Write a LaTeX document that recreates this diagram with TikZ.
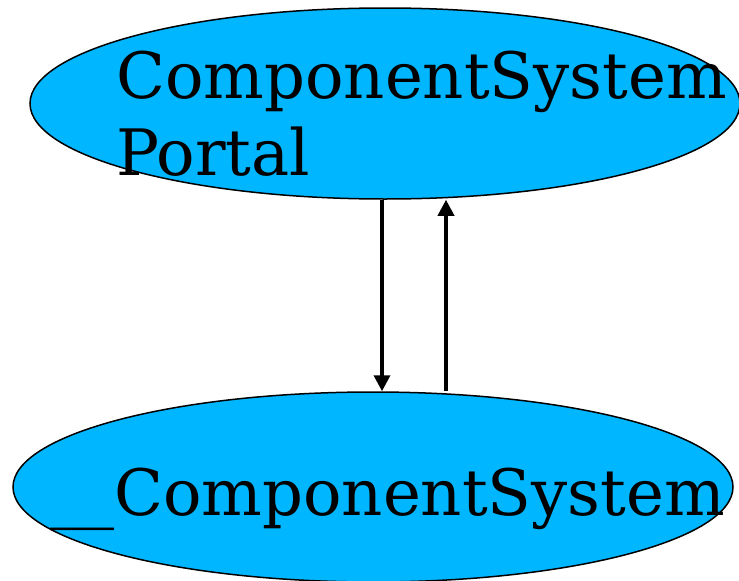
\documentclass[tikz,border=0pt]{standalone}
\usepackage{fontspec}
\setmainfont{DejaVu Serif}
\usetikzlibrary{shapes.geometric,arrows.meta}
\definecolor{nodefill}{RGB}{0,182,255}
\tikzset{
  compnode/.style={ellipse, draw=black, line width=1.5pt, fill=nodefill, inner sep=0pt},
  labeltext/.style={inner sep=0pt, anchor=base west, align=left,
    font=\fontsize{64}{77}\selectfont},
  link/.style={draw=black, line width=3.5pt, -{Triangle[length=16pt,width=16pt]}}
}
\begin{document}
\begin{tikzpicture}[x=1pt,y=-1pt]
  \useasboundingbox (0,0) rectangle (739,581);
  % the two components
  \node[compnode, minimum width=710pt, minimum height=191pt] (portal) at (385,103.5) {};
  \node[compnode, minimum width=720pt, minimum height=190pt] (system) at (373,487) {};
  % their labels (base anchor sits on the last line)
  \node[labeltext] (portaltext) at (116,175) {ComponentSystem\\Portal};
  \node[labeltext] (systemtext) at (50,515) {\_\_ComponentSystem};
  % connectors in both directions
  \coordinate (downx) at (382,0);
  \coordinate (upx) at (446,0);
  \draw[link] (downx |- portal.south) -- (downx |- system.north);
  \draw[link] (upx |- system.north) -- (upx |- portal.south);
\end{tikzpicture}
\end{document}
